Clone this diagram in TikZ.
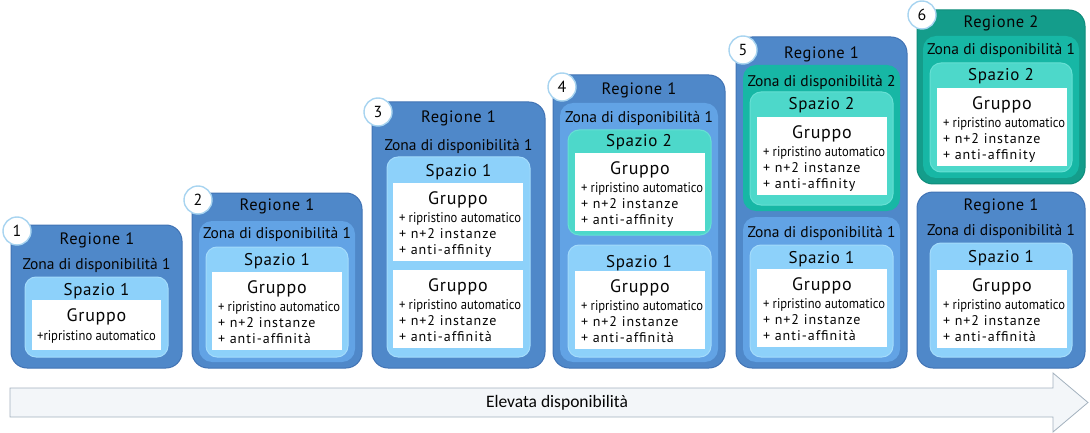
\documentclass[tikz,border=0pt]{standalone}
\usepackage{fontspec}
\usepackage{graphicx}
\setmainfont{PT Sans}
\newfontfamily\regfont[LetterSpace=4]{PT Sans}
\newfontfamily\spacedfont[LetterSpace=7]{PT Sans}
\newfontfamily\narrowfont[FakeStretch=0.9]{PT Sans}
\newfontfamily\arrowfont{Carlito}
\usetikzlibrary{fit,calc}

\definecolor{regblue}{HTML}{4F88C9}
\definecolor{regblueline}{HTML}{4173B4}
\definecolor{zonablue}{HTML}{62A3E5}
\definecolor{spazioblue}{HTML}{8DD1FA}
\definecolor{spazioline}{HTML}{A3DBFB}
\definecolor{regteal}{HTML}{149D8B}
\definecolor{regtealline}{HTML}{0F8C7B}
\definecolor{zonateal}{HTML}{17B7A5}
\definecolor{spazioteal}{HTML}{4DD8CA}
\definecolor{spaziotealline}{HTML}{66E0D4}
\definecolor{circleline}{HTML}{A8D4F0}
\definecolor{arrowfill}{HTML}{F3F6F9}
\definecolor{arrowline}{HTML}{A3B1BE}
\definecolor{inktext}{HTML}{050505}

\tikzset{
  regbox/.style={draw=regblueline, fill=regblue, line width=1pt, rounded corners=16pt, inner sep=0pt},
  regtealbox/.style={regbox, draw=regtealline, fill=regteal},
  zonabox/.style={fill=zonablue, rounded corners=13pt, inner sep=0pt},
  zonatealbox/.style={zonabox, fill=zonateal},
  spaziobox/.style={draw=spazioline, fill=spazioblue, line width=1pt, rounded corners=11pt, inner sep=0pt},
  spaziotealbox/.style={spaziobox, draw=spaziotealline, fill=spazioteal},
  gruppobox/.style={fill=white, inner sep=0pt},
  numero/.style={circle, draw=circleline, fill=white, line width=1.4pt, minimum size=28pt, inner sep=0pt, text=inktext, font=\fontsize{16}{16}\selectfont},
  regtext/.style={anchor=base, inner sep=0pt, text=inktext, font={\regfont\fontsize{16.5}{18}\selectfont}},
  zonatext/.style={anchor=base, inner sep=0pt, text=inktext, font={\fontsize{15.5}{18}\selectfont}},
  spaziotext/.style={anchor=base, inner sep=0pt, text=inktext, font={\regfont\fontsize{17}{18}\selectfont}},
  gruppotext/.style={anchor=base, inner sep=0pt, text=inktext, font={\regfont\fontsize{18}{18}\selectfont}},
  vocetext/.style={anchor=base west, inner sep=0pt, text=inktext, font={\fontsize{14}{15}\selectfont}},
  freccia/.style={draw=arrowline, fill=arrowfill, line width=0.8pt},
}

% white Gruppo block: name, left, top, third item
\newcommand{\gruppo}[4]{%
  \node[gruppobox, fit={(#2,#3) (#2+130,#3+78)}] (#1) {};
  \node[gruppotext] (#1-titolo) at ($(#1.north)+(0,21.5)$) {Gruppo};
  \node[vocetext] (#1-a) at ($(#1.north west)+(6,39.5)$) {\narrowfont + ripristino automatico};
  \node[vocetext] (#1-b) at ($(#1.north west)+(6,55.5)$) {\spacedfont + n+2 instanze};
  \node[vocetext] (#1-c) at ($(#1.north west)+(6,71.5)$) {\spacedfont + #4};
}

\begin{document}
\begin{tikzpicture}[x=1pt, y=-1pt]
\useasboundingbox (0,0) rectangle (1090,433);

% 1
\node[regbox, fit={(11,225) (182,368)}] (r1) {};
\node[regtext] (r1-t) at (97,244) {Regione 1};
\node[zonatext] (z1-t) at (96.5,269) {Zona di disponibilità 1};
\node[spaziobox, fit={(25,277) (168,357)}] (s1) {};
\node[spaziotext] (s1-t) at (96.5,295) {Spazio 1};
\node[gruppobox, fit={(32,300) (161,350)}] (g1) {};
\node[gruppotext] (g1-titolo) at (96.5,321.5) {Gruppo};
\node[vocetext, anchor=base] (g1-a) at (96.5,340.5) {\narrowfont +ripristino automatico};

% 2
\node[regbox, fit={(192,193) (362,368)}] (r2) {};
\node[regtext] (r2-t) at (277,211) {Regione 1};
\node[zonabox, fit={(199,221) (355,362)}] (z2) {};
\node[zonatext] (z2-t) at (277,238) {Zona di disponibilità 1};
\node[spaziobox, fit={(206,247) (348,357)}] (s2) {};
\node[spaziotext] (s2-t) at (277,265) {Spazio 1};
\gruppo{g2}{212}{272}{anti-affinità}

% 3
\node[regbox, fit={(372,102) (545,368)}] (r3) {};
\node[regtext] (r3-t) at (458.5,123) {Regione 1};
\node[zonatext] (z3-t) at (458.5,151) {Zona di disponibilità 1};
\node[spaziobox, fit={(387,157) (530,357)}] (s3) {};
\node[spaziotext] (s3-t) at (458.5,176) {Spazio 1};
\gruppo{g3a}{393}{183}{anti-affinity}
\gruppo{g3b}{393}{270}{anti-affinità}

% 4
\node[regbox, fit={(553,75) (725,368)}] (r4) {};
\node[regtext] (r4-t) at (639,95) {Regione 1};
\node[zonabox, fit={(560,103) (718,362)}] (z4) {};
\node[zonatext] (z4-t) at (639,123) {Zona di disponibilità 1};
\node[spaziotealbox, fit={(568,130) (711,235)}] (s4b) {};
\node[spaziotext] (s4b-t) at (639,147) {Spazio 2};
\gruppo{g4a}{575}{153}{anti-affinity}
\node[spaziobox, fit={(568,245) (711,357)}] (s4a) {};
\node[spaziotext] (s4a-t) at (639,267) {Spazio 1};
\gruppo{g4b}{575}{271}{anti-affinità}

% 5
\node[regbox, fit={(736,37) (907,368)}] (r5) {};
\node[regtext] (r5-t) at (821.5,59) {Regione 1};
\node[zonatealbox, fit={(743,65) (900,211)}] (z5b) {};
\node[zonatext] (z5b-t) at (821.5,87) {Zona di disponibilità 2};
\node[spaziotealbox, fit={(750,92) (893,205)}] (s5b) {};
\node[spaziotext] (s5b-t) at (821.5,110) {Spazio 2};
\gruppo{g5a}{757}{117}{anti-affinity}
\node[zonabox, fit={(743,217) (900,362)}] (z5a) {};
\node[zonatext] (z5a-t) at (821.5,237) {Zona di disponibilità 1};
\node[spaziobox, fit={(750,245) (893,357)}] (s5a) {};
\node[spaziotext] (s5a-t) at (821.5,263) {Spazio 1};
\gruppo{g5b}{757}{269}{anti-affinità}

% 6
\node[regtealbox, fit={(917,10) (1085,184)}] (r6b) {};
\node[regtext] (r6b-t) at (1001,28) {Regione 2};
\node[zonatealbox, fit={(923,36) (1079,178)}] (z6b) {};
\node[zonatext] (z6b-t) at (1001,55) {Zona di disponibilità 1};
\node[spaziotealbox, fit={(930,63) (1072,172)}] (s6b) {};
\node[spaziotext] (s6b-t) at (1001,81) {Spazio 2};
\gruppo{g6a}{937}{88}{anti-affinity}
\node[regbox, fit={(917,192) (1085,368)}] (r6a) {};
\node[regtext] (r6a-t) at (1001,210) {Regione 1};
\node[zonatext] (z6a-t) at (1001,235) {Zona di disponibilità 1};
\node[spaziobox, fit={(930,243) (1072,357)}] (s6a) {};
\node[spaziotext] (s6a-t) at (1001,262) {Spazio 1};
\gruppo{g6b}{937}{270}{anti-affinità}

% numbers
\node[numero] (n1) at (17,231) {1};
\node[numero] (n2) at (198,200) {2};
\node[numero] (n3) at (378,112) {3};
\node[numero] (n4) at (562,87) {4};
\node[numero] (n5) at (743,50) {5};
\node[numero] (n6) at (922,15) {6};

% arrow
\draw[freccia] (10,388) -- (1053,388) -- (1053,373) -- (1088,402.5) -- (1053,432) -- (1053,417) -- (10,417) -- cycle;
\node[inner sep=0pt, text=inktext, font={\arrowfont\fontsize{17.5}{17.5}\selectfont}] (freccia-t) at (557,402.5) {Elevata disponibilità};
\end{tikzpicture}
\end{document}
